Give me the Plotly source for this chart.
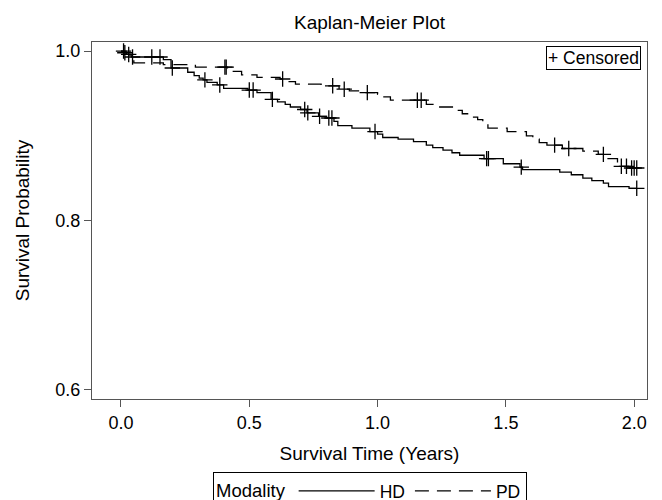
import numpy as np
import plotly.graph_objects as go

# ---- data ----
hd_time = [0, 0.010, 0.022, 0.040, 0.165, 0.195, 0.26, 0.285, 0.305, 0.32, 0.335, 0.375,
           0.40, 0.495, 0.53, 0.585, 0.61, 0.64, 0.66, 0.70, 0.725, 0.77, 0.80, 0.83,
           0.845, 0.90, 0.97, 1.00, 1.02, 1.08, 1.14, 1.19, 1.215, 1.255, 1.29, 1.32,
           1.415, 1.49, 1.555, 1.565, 1.71, 1.755, 1.80, 1.835, 1.88, 1.90, 1.98]
hd_surv = [1.0, 0.998, 0.996, 0.993, 0.990, 0.980, 0.975, 0.971, 0.968, 0.966, 0.963, 0.960,
           0.956, 0.954, 0.951, 0.943, 0.940, 0.937, 0.934, 0.931, 0.927, 0.923, 0.921, 0.917,
           0.912, 0.909, 0.905, 0.902, 0.898, 0.896, 0.893, 0.889, 0.886, 0.883, 0.880, 0.877,
           0.873, 0.867, 0.863, 0.860, 0.857, 0.854, 0.850, 0.847, 0.844, 0.840, 0.838]
hd_censored = [0.015, 0.045, 0.12, 0.152, 0.20, 0.327, 0.385, 0.50, 0.515, 0.59, 0.716,
               0.728, 0.774, 0.81, 0.822, 0.99, 1.425, 1.432, 1.56, 2.01]

pd_time = [0, 0.02, 0.035, 0.05, 0.165, 0.29, 0.415, 0.47, 0.53, 0.62, 0.645, 0.68, 0.78,
           0.85, 0.89, 0.94, 1.0, 1.02, 1.05, 1.19, 1.22, 1.30, 1.33, 1.36, 1.39, 1.41,
           1.43, 1.505, 1.58, 1.605, 1.63, 1.66, 1.72, 1.80, 1.86, 1.895, 1.935, 1.985]
pd_surv = [1.0, 0.996, 0.991, 0.986, 0.984, 0.981, 0.976, 0.972, 0.969, 0.967, 0.964, 0.961,
           0.959, 0.955, 0.953, 0.951, 0.949, 0.946, 0.942, 0.937, 0.934, 0.930, 0.926,
           0.922, 0.919, 0.915, 0.909, 0.905, 0.900, 0.896, 0.892, 0.889, 0.885, 0.882,
           0.878, 0.873, 0.864, 0.862]
pd_censored = [0.01, 0.03, 0.405, 0.41, 0.63, 0.825, 0.87, 0.96, 1.155, 1.17, 1.69, 1.745,
               1.88, 1.95, 1.97, 1.99, 2.0, 2.01]

x_ticks = [0.0, 0.5, 1.0, 1.5, 2.0]
y_ticks = [0.6, 0.8, 1.0]

FONT = "Liberation Sans"
INK = "#000000"
FRAME = "#555555"


def step_value(times, surv, t):
    idx = np.searchsorted(np.asarray(times), np.asarray(t), side="right") - 1
    return np.asarray(surv)[idx]


fig = go.Figure()

groups = [("HD", hd_time, hd_surv, hd_censored, "solid"),
          ("PD", pd_time, pd_surv, pd_censored, "14px,8px")]

for name, t, s, c, dash in groups:
    end = max(c)
    fig.add_trace(go.Scatter(
        x=list(t) + [end], y=list(s) + [s[-1]],
        mode="lines", line=dict(shape="hv", color=INK, width=1.3, dash=dash),
        name=name, showlegend=True, hoverinfo="skip"))
    fig.add_trace(go.Scatter(
        x=c, y=step_value(t, s, c), mode="markers",
        marker=dict(symbol="cross-thin", size=11, line=dict(color=INK, width=1.3)),
        showlegend=False, hoverinfo="skip"))

# the page shows the figure offset by the 8px body margin; layout is compensated
fig.update_layout(
    width=662, height=500,
    margin=dict(l=84, r=23, t=34, b=109),
    paper_bgcolor="white", plot_bgcolor="white",
    font=dict(family=FONT, size=18, color=INK),
    title=dict(text="Kaplan-Meier Plot", x=0.5, xref="paper", xanchor="center",
               y=1 - 14 / 500, yanchor="middle", font=dict(size=19)),
    showlegend=True,
    legend=dict(orientation="h", xref="container", x=362 / 662, xanchor="center",
                yref="container", y=1 - 464 / 500, yanchor="top",
                bordercolor=INK, borderwidth=1, bgcolor="white",
                title=dict(text="Modality", side="left", font=dict(size=18.5)),
                itemwidth=76, font=dict(size=17.5), tracegroupgap=0),
)

fig.update_xaxes(
    range=[-0.113, 2.05], tickvals=x_ticks, tickformat=".1f", automargin=False,
    showline=True, linecolor=FRAME, linewidth=1, mirror=True,
    ticks="outside", ticklen=7, tickcolor=FRAME, showgrid=False, zeroline=False,
    title=dict(text="Survival Time (Years)", standoff=15, font=dict(size=19)),
    tickfont=dict(size=18))
fig.update_yaxes(
    range=[0.5893, 1.0107], tickvals=y_ticks, tickformat=".1f", automargin=False,
    showline=True, linecolor=FRAME, linewidth=1, mirror=True,
    ticks="outside", ticklen=7, tickcolor=FRAME, showgrid=False, zeroline=False,
    title=dict(text="Survival Probability", standoff=20, font=dict(size=19)),
    tickfont=dict(size=18))

fig.add_annotation(
    text="+ Censored", xref="paper", yref="paper", x=0.989, y=0.989,
    xanchor="right", yanchor="top", showarrow=False,
    font=dict(size=17.5, color=INK), bordercolor=INK, borderwidth=1,
    borderpad=1, bgcolor="white")

fig.write_html("out.html")
